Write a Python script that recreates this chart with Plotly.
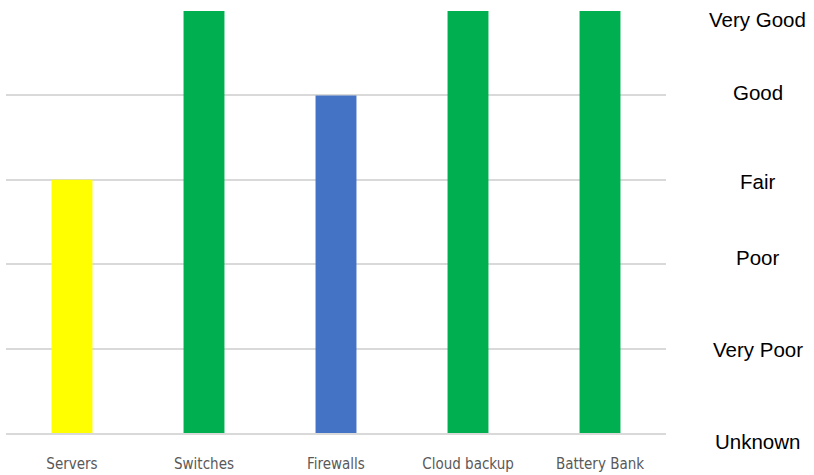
import plotly.graph_objects as go

categories = ["Servers", "Switches", "Firewalls", "Cloud backup", "Battery Bank"]
ratings = [3, 5, 4, 5, 5]
bar_colors = ["#FFFF00", "#00B050", "#4472C4", "#00B050", "#00B050"]
rating_labels = ["Unknown", "Very Poor", "Poor", "Fair", "Good", "Very Good"]
# label centres, in paper fraction of the plot height
label_levels = [-0.019, 0.197, 0.417, 0.597, 0.806, 0.981]

fig = go.Figure()
fig.add_trace(go.Bar(
    x=categories, y=ratings, marker=dict(color=bar_colors, line=dict(width=0)),
    width=0.31, showlegend=False, hoverinfo="skip"
))

for lab, lv in zip(rating_labels, label_levels):
    fig.add_annotation(
        x=1.139, xref="paper", y=lv, yref="paper", text=lab, showarrow=False,
        xanchor="center", yanchor="middle",
        font=dict(family="Liberation Sans, Arial, sans-serif", size=20.5, color="#000000")
    )

fig.update_layout(
    width=814, height=475,
    margin=dict(l=6, r=148, t=11, b=42),
    plot_bgcolor="white", paper_bgcolor="white",
)
fig.update_xaxes(
    showgrid=False, showline=True, linecolor="#D9D9D9", linewidth=2,
    ticks="", ticklabelstandoff=16, automargin=False,
    tickfont=dict(family="DejaVu Sans Condensed, Liberation Sans Narrow, sans-serif", size=15, color="#595959"),
)
fig.update_yaxes(
    range=[0, 5], dtick=1, showgrid=True, gridcolor="#D9D9D9", gridwidth=2,
    showticklabels=False, zeroline=False, showline=False, automargin=False,
)

fig.write_html("out.html", config={"displayModeBar": False},
               post_script="document.body.style.margin='0';")
